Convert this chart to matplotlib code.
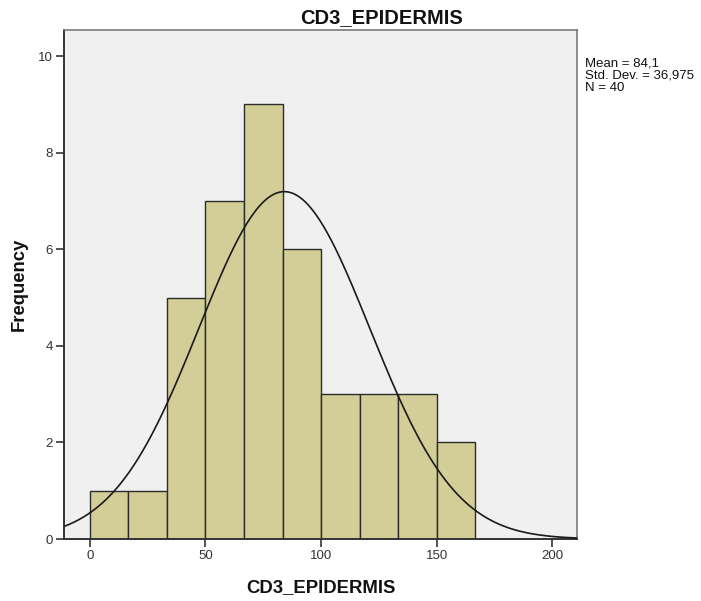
import numpy as np
import matplotlib
matplotlib.use("Agg")
import matplotlib.pyplot as plt

# Histogram of CD3_EPIDERMIS with fitted normal curve
bin_edges = [0, 50/3, 100/3, 50, 200/3, 250/3, 100, 350/3, 400/3, 150, 500/3]
counts = [1, 1, 5, 7, 9, 6, 3, 3, 3, 2]
mean_val = 84.1
std_val = 36.975
n_total = 40
x_ticks = [0, 50, 100, 150, 200]
y_ticks = [0, 2, 4, 6, 8, 10]
stats_lines = ["Mean = 84,1", "Std. Dev. = 36,975", "N = 40"]

plt.rcParams['font.family'] = ['Liberation Sans', 'DejaVu Sans']

W, H = 701, 601
fig = plt.figure(figsize=(W / 100, H / 100), dpi=100)
ax = fig.add_axes([64 / W, 1 - 539 / H, (577 - 64) / W, (539 - 30) / H])
ax.set_facecolor("#f0f0f0")

widths = np.diff(bin_edges)
ax.bar(bin_edges[:-1], counts, width=widths, align="edge",
       color="#d3ce97", edgecolor="#2b2b2b", linewidth=1.0, zorder=2)

# normal curve scaled to counts
bw = bin_edges[1] - bin_edges[0]
xs = np.linspace(-11.2, 210.7, 400)
pdf = np.exp(-0.5 * ((xs - mean_val) / std_val) ** 2) / (std_val * np.sqrt(2 * np.pi))
ax.plot(xs, pdf * n_total * bw, color="#1a1a1a", linewidth=1.2, zorder=3)

ax.set_xlim(-11.2, 210.7)
ax.set_ylim(0, 10.54)
ax.set_xticks(x_ticks)
ax.set_yticks(y_ticks)
ax.tick_params(axis="both", direction="out", length=6, width=1.2, pad=2,
               colors="#333333", labelsize=9.5, labelcolor="#333333")

for side in ["top", "right"]:
    ax.spines[side].set_color("#7a7a7a")
    ax.spines[side].set_linewidth(1.2)
for side in ["left", "bottom"]:
    ax.spines[side].set_color("#333333")
    ax.spines[side].set_linewidth(1.4)

fig.text(382 / W, 1 - 23 / H, "CD3_EPIDERMIS", fontsize=14.5, fontweight="bold",
         ha="center", va="baseline", color="#111111")
fig.text(321 / W, 1 - 592 / H, "CD3_EPIDERMIS", fontsize=13.3, fontweight="bold",
         ha="center", va="baseline", color="#111111")
fig.text(19 / W, 1 - 284 / H, "Frequency", fontsize=13.3, fontweight="bold",
         rotation=90, ha="center", va="center", color="#111111")

# summary statistics next to the plot
for i, line in enumerate(stats_lines):
    fig.text(585 / W, 1 - (67 + 12 * i) / H, line, fontsize=9.5,
             ha="left", va="baseline", color="#111111")

fig.savefig("out.png", dpi=100)
